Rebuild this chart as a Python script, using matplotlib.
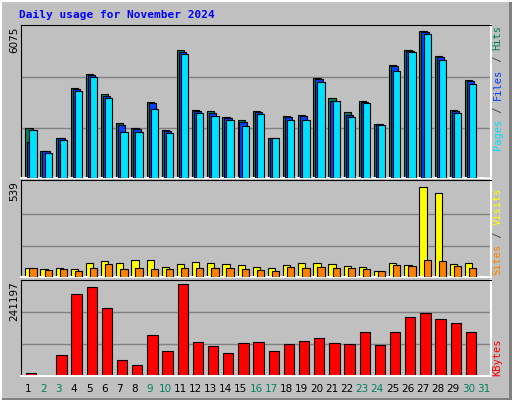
import numpy as np
import matplotlib
matplotlib.use('Agg')
import matplotlib.pyplot as plt
from matplotlib.patches import Rectangle

# ======================
# data
# ======================
days = list(range(1, 32))
hits = [2015, 1095, 1615, 3610, 4170, 3370, 2220, 2005, 3030, 1910, 5140,
        2735, 2670, 2455, 2310, 2670, 1615, 2495, 2535, 4020, 3220, 2630,
        3100, 2180, 4540, 5140, 5900, 4910, 2735, 3940, 0]
files = [1430, 1095, 1590, 3560, 4130, 3300, 2130, 1965, 2990, 1880, 5050,
         2670, 2600, 2400, 2255, 2645, 1615, 2455, 2480, 3960, 3100, 2535,
         3060, 2150, 4500, 5100, 5850, 4860, 2695, 3870, 0]
pages = [1910, 1015, 1535, 3500, 4060, 3215, 1855, 1855, 2775, 1815, 4980,
         2615, 2495, 2335, 2095, 2575, 1615, 2335, 2335, 3860, 3100, 2455,
         3020, 2135, 4300, 5060, 5780, 4740, 2615, 3780, 0]
visits = [52, 46, 52, 46, 80, 91, 80, 97, 97, 58, 74, 86, 80, 74, 69,
          58, 52, 69, 80, 80, 74, 63, 58, 35, 80, 69, 515, 482, 74, 80, 0]
sites = [52, 41, 46, 35, 52, 74, 46, 52, 46, 46, 52, 52, 52, 52, 46,
         41, 35, 58, 52, 58, 52, 52, 46, 35, 69, 63, 97, 91, 63, 52, 0]
kbytes = [8400, 3400, 54000, 205700, 223400, 170300, 41300, 28700, 102000,
          61700, 231000, 84300, 74200, 59000, 81800, 84300, 61700, 79400,
          86900, 94500, 81800, 79400, 109700, 76800, 109700, 147700, 157800,
          142600, 132500, 109700, 0]
max_top, max_mid, max_bot = 6075, 539, 241197

weekend = {2, 3, 9, 10, 16, 17, 23, 24, 30, 31}

C = {'hits': '#00805c', 'files': '#0040ff', 'pages': '#00e0ff',
     'visits': '#ffff00', 'sites': '#ff8000', 'kbytes': '#ff0000',
     'bg': '#c0c0c0', 'grid': '#808080', 'title': '#0000ff'}

fig = plt.figure(figsize=(5.12, 4.0), dpi=100)
fig.patch.set_facecolor(C['bg'])
# bevel border
fig.add_artist(Rectangle((0, 0), 1, 1, transform=fig.transFigure, fill=False,
                         edgecolor='white', lw=3))
fig.add_artist(Rectangle((0.004, 0.0), 0.996, 0.005, transform=fig.transFigure,
                         color='#808080', lw=0))
fig.add_artist(Rectangle((0.994, 0.0), 0.006, 0.995, transform=fig.transFigure,
                         color='#808080', lw=0))

fig.text(0.037, 0.962, "Daily usage for November 2024", color=C['title'],
         family='DejaVu Sans Mono', fontsize=8, fontweight='bold', va='center')

x0, w = 21 / 512, 470 / 512
panels = [(1 - 178 / 400, 153 / 400), (1 - 277 / 400, 97 / 400), (1 - 376 / 400, 96 / 400)]
axes = []
for b, h in panels:
    ax = fig.add_axes([x0, b, w, h])
    ax.set_facecolor(C['bg'])
    ax.set_xlim(0, 31)
    ax.set_xticks([])
    ax.set_yticks([])
    for s in ['top', 'left']:
        ax.spines[s].set_color('#000000')
    for s in ['bottom', 'right']:
        ax.spines[s].set_color('white')
        ax.spines[s].set_linewidth(1.5)
    axes.append(ax)

ax1, ax2, ax3 = axes
xs = np.arange(31)

def grid(ax, top):
    ax.set_ylim(0, top)
    for f in (1 / 3, 2 / 3):
        ax.axhline(top * f, color=C['grid'], lw=1, zorder=0)

grid(ax1, max_top)
ax1.set_ylim(0, max_top * 1.01)
ax1.bar(xs + 0.28, hits, width=0.48, align='edge', color=C['hits'], edgecolor='black', lw=0.8, zorder=2)
ax1.bar(xs + 0.41, files, width=0.48, align='edge', color=C['files'], edgecolor='black', lw=0.8, zorder=3)
ax1.bar(xs + 0.55, pages, width=0.48, align='edge', color=C['pages'], edgecolor='black', lw=0.8, zorder=4)

grid(ax2, max_mid)
ax2.set_ylim(0, max_mid * 1.03)
ax2.bar(xs + 0.28, visits, width=0.48, align='edge', color=C['visits'], edgecolor='black', lw=0.8, zorder=2)
ax2.bar(xs + 0.55, sites, width=0.48, align='edge', color=C['sites'], edgecolor='black', lw=0.8, zorder=3)

grid(ax3, max_bot)
ax3.set_ylim(0, max_bot * 1.0)
ax3.bar(xs + 0.33, kbytes, width=0.68, align='edge', color=C['kbytes'], edgecolor='black', lw=0.8, zorder=2)

for d in days:
    fig.text(x0 + w * (d - 0.5) / 31, 1 - 389 / 400, str(d), ha='center', va='center',
             fontsize=7.5, color='#00805c' if d in weekend else 'black')

for ax, m in zip(axes, [max_top, max_mid, max_bot]):
    fig.text(0.028, ax.get_position().y1 - 0.003, str(m), rotation=90, ha='center',
             va='top', fontsize=7.5)

def side_label(parts, y_bottom):
    fs = 7.5
    ch = fs * 0.602 / 72 * 100 / 400  # mono advance in figure fraction
    y = y_bottom
    for txt, col in parts:
        fig.text(0.972, y, txt, rotation=90, ha='center', va='bottom', color=col,
                 family='DejaVu Sans Mono', fontsize=fs)
        y += ch * len(txt)

sep = '#404040'
side_label([('Pages', C['pages']), (' / ', sep), ('Files', C['files']),
            (' / ', sep), ('Hits', C['hits'])], 1 - 150 / 400)
side_label([('Sites', C['sites']), (' / ', sep), ('Visits', C['visits'])],
           1 - 275 / 400)
side_label([('KBytes', C['kbytes'])], 1 - 376 / 400)

plt.savefig('out.png', dpi=100, facecolor=fig.get_facecolor())
